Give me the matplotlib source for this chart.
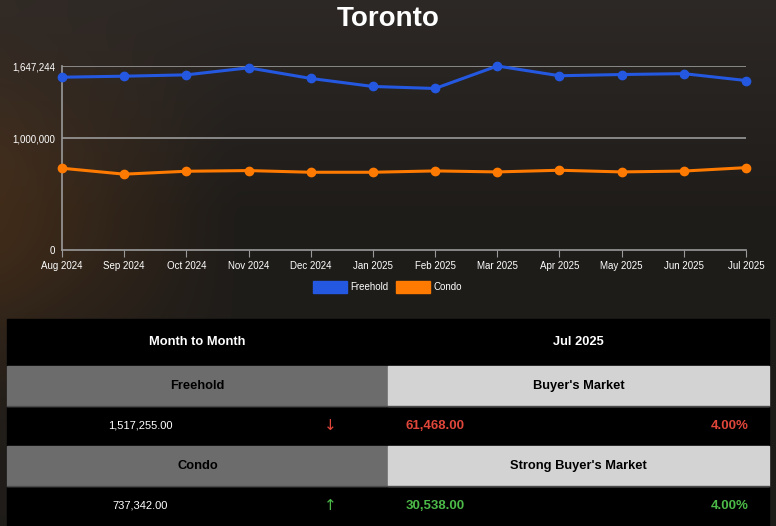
import numpy as np
import matplotlib
matplotlib.use('Agg')
import matplotlib.pyplot as plt
from matplotlib.patches import Rectangle

plt.rcParams['font.family'] = ['Liberation Sans', 'DejaVu Sans']

# ---- data ----
months   = ['Aug 2024', 'Sep 2024', 'Oct 2024', 'Nov 2024', 'Dec 2024', 'Jan 2025',
            'Feb 2025', 'Mar 2025', 'Apr 2025', 'May 2025', 'Jun 2025', 'Jul 2025']
freehold = [1547000, 1556000, 1568000, 1631000, 1536000, 1464000,
            1446000, 1647244, 1560000, 1571000, 1578723, 1517255]
condo    = [732000, 679000, 705000, 711000, 696000, 696000,
            708000, 699000, 714000, 699000, 706804, 737342]
yticks   = [0, 1000000, 1647244]

table_head  = ['Month to Month', 'Jul 2025']
row_types   = ['Freehold', 'Condo']
row_markets = ["Buyer's Market", "Strong Buyer's Market"]
row_values  = ['1,517,255.00', '737,342.00']
row_arrows  = ['\u2193', '\u2191']
row_changes = ['61,468.00', '30,538.00']
row_pcts    = ['4.00%', '4.00%']
row_colors  = ['#e0463a', '#4cba48']

BLUE = '#2458e0'
ORANGE = '#ff7a00'
W, H = 776, 526

fig = plt.figure( figsize = ( W / 100, H / 100 ), dpi = 100 )

# background (dark photo look)
bg = fig.add_axes( [ 0, 0, 1, 1 ] )
yy, xx = np.mgrid[ 0:1:60j, 0:1:80j ]
base = np.array( [ 0.12, 0.11, 0.10 ] )
warm = np.array( [ 0.25, 0.17, 0.10 ] )
top  = np.array( [ 0.19, 0.17, 0.16 ] )
w_left = np.clip( 1 - xx / 0.3, 0, 1 ) * np.exp( -( ( yy - 0.4 ) / 0.28 ) ** 2 )
w_top  = np.clip( 1 - yy / 0.4, 0, 1 )
img = base + w_left[ ..., None ] * ( warm - base ) + w_top[ ..., None ] * ( top - base ) * 0.8
bg.imshow( np.clip( img, 0, 1 ), extent = [ 0, W, H, 0 ], aspect = 'auto', interpolation = 'bicubic' )
bg.set_xlim( 0, W )
bg.set_ylim( H, 0 )
bg.axis( 'off' )

# title
bg.text( 388, 19, 'Toronto', color = 'white', fontsize = 20, fontweight = 'bold',
         ha = 'center', va = 'center' )

# ---- line chart ----
ax = fig.add_axes( [ 62 / W, 1 - 250 / H, ( 746 - 62 ) / W, ( 250 - 66 ) / H ] )
ax.patch.set_alpha( 0 )
x = np.arange( len( months ) )
ax.plot( x, freehold, color = BLUE, lw = 2.2, marker = 'o', ms = 6, clip_on = False, zorder = 4 )
ax.plot( x, condo, color = ORANGE, lw = 2.2, marker = 'o', ms = 6, clip_on = False, zorder = 4 )
ax.set_xlim( 0, len( months ) - 1 )
ax.set_ylim( 0, yticks[ -1 ] )
ax.set_yticks( yticks )
ax.set_yticklabels( [ f'{v:,}' for v in yticks ] )
ax.set_xticks( x )
ax.set_xticklabels( months )
for v in yticks[ 1: ]:
    ax.axhline( v, color = '#9a9a9a', lw = 1.2, zorder = 1 )
for s in [ 'top', 'right' ]:
    ax.spines[ s ].set_visible( False )
for s in [ 'left', 'bottom' ]:
    ax.spines[ s ].set_color( '#9a9a9a' )
    ax.spines[ s ].set_linewidth( 1.2 )
ax.tick_params( axis = 'y', length = 0, pad = 5, labelsize = 7, labelcolor = 'white' )
ax.tick_params( axis = 'x', length = 5, color = '#9a9a9a', pad = 3, labelsize = 7, labelcolor = 'white' )

# legend
bg.add_patch( Rectangle( ( 313, 281 ), 34, 12, color = BLUE ) )
bg.text( 350, 287.5, 'Freehold', color = 'white', fontsize = 7, va = 'center' )
bg.add_patch( Rectangle( ( 396, 281 ), 34, 12, color = ORANGE ) )
bg.text( 433, 287.5, 'Condo', color = 'white', fontsize = 7, va = 'center' )

# ---- table ----
L, M, R = 7, 388, 769
bg.add_patch( Rectangle( ( L, 319 ), R - L, H - 319, color = 'black', zorder = 2 ) )
bg.text( ( L + M ) / 2, 342, table_head[ 0 ], color = 'white', fontsize = 9.3,
         fontweight = 'bold', ha = 'center', va = 'center', zorder = 3 )
bg.text( ( M + R ) / 2, 342, table_head[ 1 ], color = 'white', fontsize = 9.3,
         fontweight = 'bold', ha = 'center', va = 'center', zorder = 3 )

for i in range( len( row_types ) ):
    top_y = 366 + i * 80
    bg.add_patch( Rectangle( ( L, top_y ), M - L, 40, color = '#6c6c6c', zorder = 2 ) )
    bg.add_patch( Rectangle( ( M, top_y ), R - M, 40, color = '#d3d3d3', zorder = 2 ) )
    bg.plot( [ L, R ], [ top_y + 40, top_y + 40 ], color = '#4a4a4a', lw = 1, zorder = 3 )
    bg.text( ( L + M ) / 2, top_y + 20, row_types[ i ], color = 'black', fontsize = 9.3,
             fontweight = 'bold', ha = 'center', va = 'center', zorder = 3 )
    bg.text( ( M + R ) / 2, top_y + 20, row_markets[ i ], color = 'black', fontsize = 9.3,
             fontweight = 'bold', ha = 'center', va = 'center', zorder = 3 )
    vy = top_y + 60
    bg.text( 140, vy, row_values[ i ], color = 'white', fontsize = 8,
             ha = 'center', va = 'center', zorder = 3 )
    bg.text( 330, vy, row_arrows[ i ], color = row_colors[ i ], fontsize = 11,
             family = [ 'DejaVu Sans' ], ha = 'center', va = 'center', zorder = 3 )
    bg.text( 406, vy, row_changes[ i ], color = row_colors[ i ], fontsize = 9.5,
             fontweight = 'bold', ha = 'left', va = 'center', zorder = 3 )
    bg.text( 749, vy, row_pcts[ i ], color = row_colors[ i ], fontsize = 9.5,
             fontweight = 'bold', ha = 'right', va = 'center', zorder = 3 )

fig.savefig( 'out.png', dpi = 100 )
